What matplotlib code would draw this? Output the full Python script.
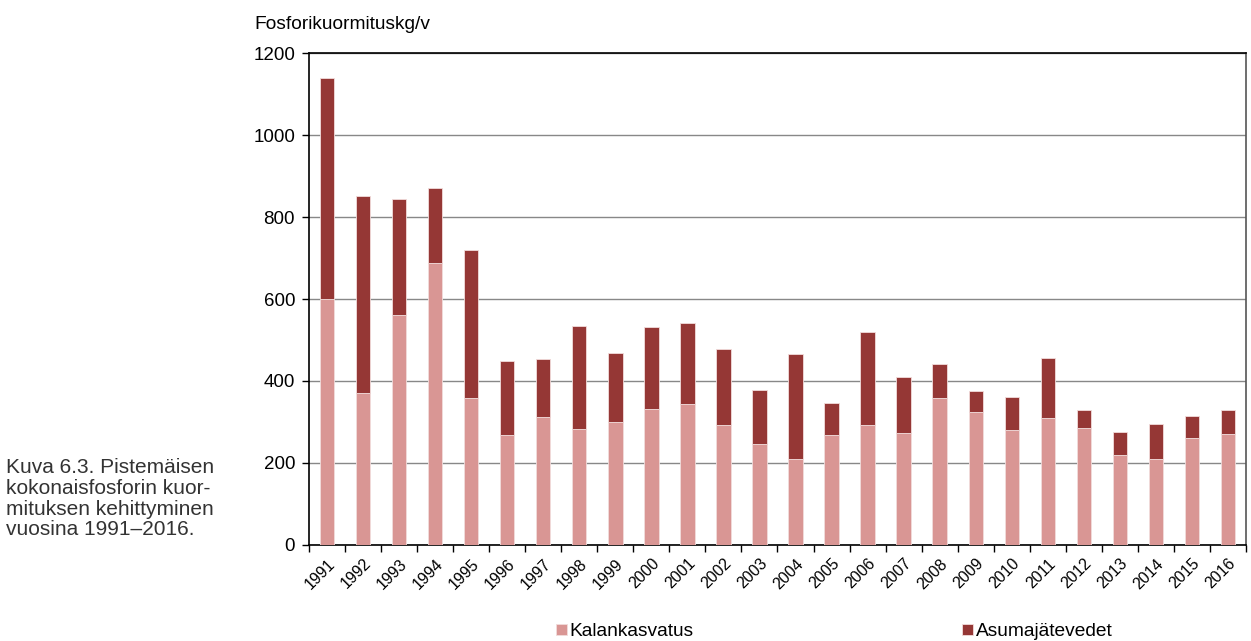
#!/usr/bin/env python3
"""
Stacked bar chart: point-source phosphorus load 1991-2016.
"""
import matplotlib
matplotlib.use("Agg")
import matplotlib.pyplot as plt
import numpy as np

plt.rcParams["font.family"] = ["Liberation Sans", "DejaVu Sans"]

years = list(range(1991, 2017))
# kg/v, totals and fish farming share read per year
total = [1139, 851, 843, 870, 720, 449, 454, 535, 469, 532, 541, 478, 379,
         466, 346, 520, 409, 441, 376, 360, 457, 328, 276, 294, 315, 328]
kalankasvatus = [600, 371, 561, 687, 358, 268, 313, 283, 301, 332, 343, 292, 246,
                 210, 268, 292, 273, 358, 324, 280, 310, 285, 220, 210, 262, 271]
asumajatevedet = [t - k for t, k in zip(total, kalankasvatus)]

PINK = "#D99694"
DARK = "#953735"

fig = plt.figure(figsize=(12.51, 6.41), dpi=100)
ax = fig.add_axes([0.247, 0.150, 0.749, 0.767])

x = np.arange(len(years))
b1 = ax.bar(x, kalankasvatus, width=0.4, color=PINK, edgecolor="#f2dcdb", linewidth=0.6,
            label="Kalankasvatus", zorder=3)
b2 = ax.bar(x, asumajatevedet, bottom=kalankasvatus, width=0.4, color=DARK,
            edgecolor="#f2dcdb", linewidth=0.6, label="Asumajätevedet", zorder=3)

ax.set_xlim(-0.5, len(years) - 0.5)
ax.set_ylim(0, 1200)
ax.set_yticks(range(0, 1201, 200))
ax.yaxis.grid(True, color="#888888", linewidth=1.0, zorder=0)
ax.tick_params(axis="y", labelsize=13.5, length=5, width=1, direction="out", pad=5)

# category boundaries get the tick marks, centres get the labels
ax.set_xticks(np.arange(len(years) + 1) - 0.5)
ax.set_xticklabels([])
ax.set_xticks(x, minor=True)
ax.set_xticklabels([str(y) for y in years], minor=True, rotation=45,
                   ha="right", va="top", rotation_mode="anchor", fontsize=11.5)
ax.tick_params(axis="x", which="major", length=5, width=1, direction="out")
ax.tick_params(axis="x", which="minor", length=0, pad=8)

for side in ["left", "bottom", "top"]:
    ax.spines[side].set_color("black")
    ax.spines[side].set_linewidth(1.2)
ax.spines["right"].set_color("#555555")
ax.spines["right"].set_linewidth(1.2)

fig.text(0.203, 0.962, "Fosforikuormituskg/v", fontsize=13.8, ha="left", va="center")

fig.text(0.005, 0.222,
         "Kuva 6.3. Pistemäisen\nkokonaisfosforin kuor-\nmituksen kehittyminen\nvuosina 1991–2016.",
         fontsize=15, color="#333333", ha="left", va="center", linespacing=1.12)

fig.legend(handles=[b1, b2], loc="lower left", bbox_to_anchor=(0.431, -0.026), ncol=2,
           frameon=False, fontsize=13.8, handlelength=0.55, handleheight=0.55,
           handletextpad=0.15, columnspacing=14.0)

fig.savefig("out.png", dpi=100)
